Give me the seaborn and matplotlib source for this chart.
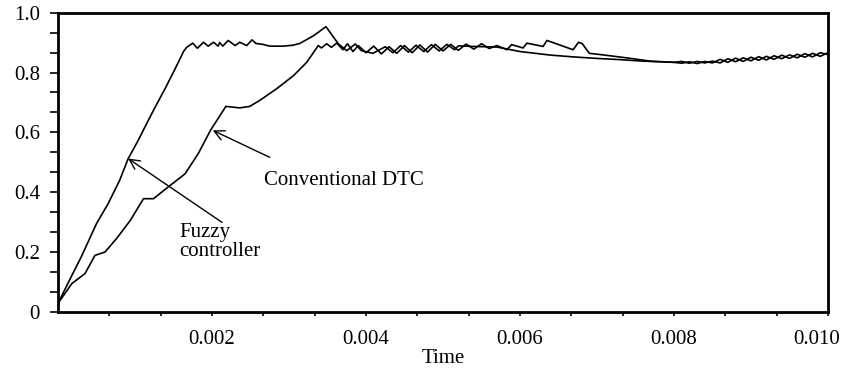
import matplotlib
matplotlib.use("Agg")
import matplotlib.pyplot as plt
from matplotlib.ticker import AutoMinorLocator, FixedLocator
from matplotlib.transforms import ScaledTranslation
import seaborn as sns
import pandas as pd

# ---- data ----
fuzzy_t = [0, 0.00017, 0.0003, 0.0005, 0.00065, 0.0008, 0.00091, 0.00104, 0.00115,
           0.00126, 0.00139, 0.00152, 0.00163, 0.00167, 0.00175, 0.00181, 0.00189,
           0.00195, 0.00202, 0.00208, 0.0021, 0.00214, 0.00221, 0.0023, 0.00236,
           0.00245, 0.00252, 0.00257, 0.00266, 0.00275, 0.00292, 0.00305, 0.00314,
           0.00332, 0.00348, 0.00364, 0.00375, 0.00386, 0.00394, 0.00409,
           0.00425, 0.00435, 0.00445, 0.00455, 0.00465, 0.00475, 0.00485, 0.00495,
           0.00505, 0.00515, 0.0052, 0.0054, 0.0057, 0.0060, 0.0064, 0.0067, 0.0070,
           0.0073, 0.0076, 0.0078, 0.0080, 0.0081, 0.0082, 0.0083, 0.0084, 0.0085,
           0.0086, 0.0087, 0.0088, 0.0089, 0.0090, 0.0091, 0.0092, 0.0093, 0.0094,
           0.0095, 0.0096, 0.0097, 0.0098, 0.0099, 0.0100]
fuzzy_y = [0.030, 0.118, 0.184, 0.296, 0.362, 0.440, 0.512, 0.573, 0.629,
           0.684, 0.746, 0.812, 0.870, 0.884, 0.898, 0.881, 0.901,
           0.888, 0.901, 0.888, 0.900, 0.888, 0.907, 0.890, 0.901,
           0.890, 0.909, 0.897, 0.894, 0.888, 0.888, 0.891, 0.897,
           0.923, 0.953, 0.896, 0.873, 0.895, 0.873, 0.864,
           0.886, 0.866, 0.890, 0.868, 0.891, 0.870, 0.893, 0.872,
           0.894, 0.876, 0.889, 0.887, 0.885, 0.870, 0.858, 0.852, 0.847,
           0.843, 0.838, 0.836, 0.834, 0.831, 0.836, 0.830, 0.837, 0.832,
           0.844, 0.834, 0.848, 0.837, 0.851, 0.841, 0.854, 0.844, 0.858,
           0.847, 0.861, 0.851, 0.864, 0.854, 0.866]

conv_t = [0, 0.00018, 0.00035, 0.00048, 0.00061, 0.00076, 0.00094, 0.00111, 0.00124,
          0.00143, 0.00165, 0.00182, 0.00198, 0.00218, 0.00236, 0.00249, 0.00262,
          0.00284, 0.00306, 0.00323, 0.00338, 0.00342, 0.00349, 0.00355, 0.00362,
          0.00370, 0.00376, 0.00383, 0.0039, 0.0040, 0.0041, 0.0042, 0.0043, 0.0044,
          0.0045, 0.0046, 0.0047, 0.0048, 0.0049, 0.0050, 0.0051, 0.0052, 0.0053,
          0.0054, 0.0055, 0.0056, 0.0057, 0.00583, 0.00589, 0.00604, 0.00609,
          0.0063, 0.00635, 0.00669, 0.00676, 0.00681, 0.0069, 0.00704, 0.00726,
          0.00747, 0.00769, 0.0080, 0.0081, 0.0082, 0.0083, 0.0084, 0.0085,
          0.0086, 0.0087, 0.0088, 0.0089, 0.0090, 0.0091, 0.0092, 0.0093, 0.0094,
          0.0095, 0.0096, 0.0097, 0.0098, 0.0099, 0.0100]
conv_y = [0.030, 0.096, 0.129, 0.190, 0.201, 0.246, 0.307, 0.379, 0.379,
          0.418, 0.462, 0.529, 0.607, 0.687, 0.682, 0.687, 0.707,
          0.746, 0.790, 0.834, 0.890, 0.882, 0.896, 0.884, 0.898,
          0.876, 0.896, 0.870, 0.890, 0.866, 0.888, 0.862, 0.886, 0.864,
          0.890, 0.866, 0.892, 0.868, 0.894, 0.872, 0.894, 0.874, 0.895,
          0.878, 0.896, 0.880, 0.890, 0.876, 0.893, 0.882, 0.898,
          0.887, 0.907, 0.876, 0.901, 0.896, 0.864, 0.860, 0.853,
          0.846, 0.838, 0.834, 0.837, 0.831, 0.837, 0.832, 0.838,
          0.832, 0.846, 0.836, 0.849, 0.839, 0.853, 0.842, 0.856, 0.846,
          0.859, 0.849, 0.863, 0.852, 0.866, 0.860]

x_ticks = [0.002, 0.004, 0.006, 0.008, 0.010]
x_tick_labels = ["0.002", "0.004", "0.006", "0.008", "0.010"]
y_ticks = [0, 0.2, 0.4, 0.6, 0.8, 1.0]
y_tick_labels = ["0", "0.2", "0.4", "0.6", "0.8", "1.0"]

df = pd.concat([
    pd.DataFrame({"Time": fuzzy_t, "value": fuzzy_y, "series": "Fuzzy controller"}),
    pd.DataFrame({"Time": conv_t, "value": conv_y, "series": "Conventional DTC"}),
], ignore_index=True)

sns.set_theme(style="white")
plt.rcParams["font.family"] = ["Liberation Serif", "DejaVu Serif"]

fig = plt.figure(figsize=(8.41, 3.70), dpi=100)
ax = fig.add_axes([0.069, 0.156, 0.9155, 0.810])

sns.lineplot(data=df, x="Time", y="value", hue="series", units="series",
             estimator=None, sort=False, palette=["black", "black"],
             linewidth=1.2, legend=False, ax=ax)

ax.set_xlim(0, 0.0100)
ax.set_ylim(0, 1.0)
ax.xaxis.set_major_locator(FixedLocator(x_ticks))
ax.set_xticklabels(x_tick_labels)
ax.yaxis.set_major_locator(FixedLocator(y_ticks))
ax.set_yticklabels(y_tick_labels)
ax.xaxis.set_minor_locator(FixedLocator([i * 0.002 / 3 for i in range(1, 15)]))
ax.yaxis.set_minor_locator(AutoMinorLocator(3))

ax.tick_params(axis="both", which="both", direction="out", colors="black",
               labelsize=15, width=1.2)
ax.tick_params(axis="x", which="both", length=3, pad=10, bottom=True)
ax.tick_params(axis="y", which="both", length=6, pad=7, left=True)

# last x label sits shifted left so it stays inside the figure
last = ax.get_xticklabels()[-1]
last.set_transform(last.get_transform() + ScaledTranslation(-11 / 100, 0, fig.dpi_scale_trans))

for sp in ax.spines.values():
    sp.set_color("black")
    sp.set_linewidth(2.0)

ax.set_xlabel("Time", fontsize=15, color="black", labelpad=0)
ax.set_ylabel("")

arrow = dict(arrowstyle="->", color="black", lw=1.0, shrinkA=0, shrinkB=0,
             mutation_scale=18)
ax.annotate("", xy=(0.00091, 0.513), xytext=(0.00213, 0.300), arrowprops=arrow)
ax.annotate("", xy=(0.00201, 0.607), xytext=(0.00275, 0.517), arrowprops=arrow)

ax.text(0.00268, 0.44, "Conventional DTC", fontsize=15, color="black",
        ha="left", va="center")
ax.text(0.00158, 0.235, "Fuzzy\ncontroller", fontsize=15, color="black",
        ha="left", va="center", linespacing=1.0)

fig.savefig("out.png", dpi=100, facecolor="white")
